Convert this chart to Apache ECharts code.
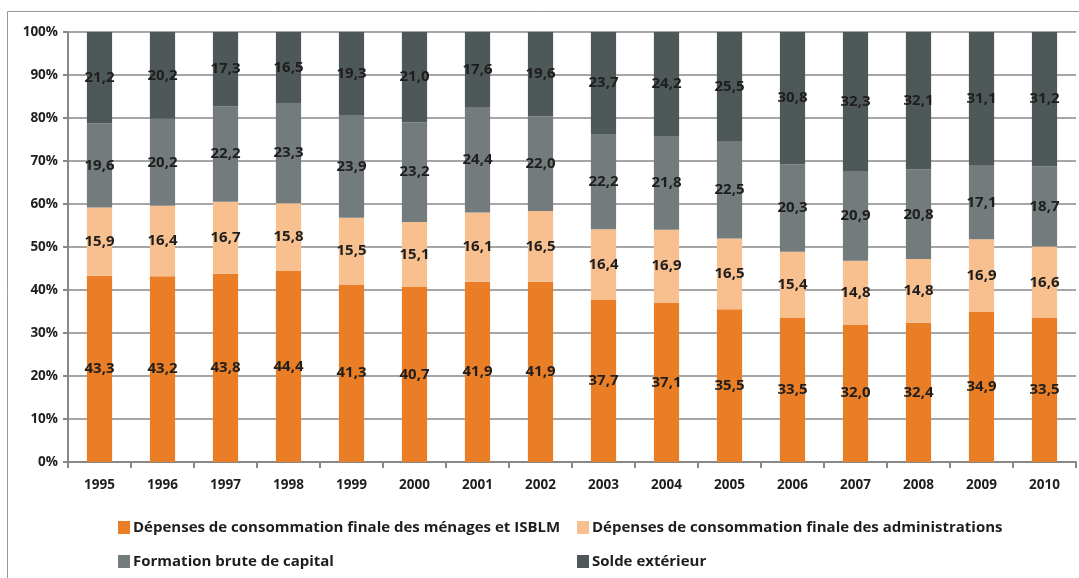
<!DOCTYPE html>
<html><head><meta charset="utf-8">
<script src="https://cdn.jsdelivr.net/npm/echarts@6/dist/echarts.min.js"></script>
<style>html,body{margin:0;padding:0;background:#fff}#c{width:1079px;height:578px}</style>
</head><body><div id="c"></div>
<script>
const years = ['1995','1996','1997','1998','1999','2000','2001','2002','2003','2004','2005','2006','2007','2008','2009','2010'];
const menages = [43.3,43.2,43.8,44.4,41.3,40.7,41.9,41.9,37.7,37.1,35.5,33.5,32.0,32.4,34.9,33.5];
const admin = [15.9,16.4,16.7,15.8,15.5,15.1,16.1,16.5,16.4,16.9,16.5,15.4,14.8,14.8,16.9,16.6];
const fbc = [19.6,20.2,22.2,23.3,23.9,23.2,24.4,22.0,22.2,21.8,22.5,20.3,20.9,20.8,17.1,18.7];
const solde = [21.2,20.2,17.3,16.5,19.3,21.0,17.6,19.6,23.7,24.2,25.5,30.8,32.3,32.1,31.1,31.2];
const names = ['Dépenses de consommation finale des ménages et ISBLM','Dépenses de consommation finale des administrations','Formation brute de capital','Solde extérieur'];
const colors = ['#E97E26','#F9C08F','#737B7D','#4F5858'];
const FONT = '"Open Sans", Lato, sans-serif';
const fmt = p => p.value.toFixed(1).replace('.', ',');
const mk = (i, data) => ({
  name: names[i], type: 'bar', stack: 'tot', data, barWidth: '40%',
  itemStyle: {color: colors[i]},
  label: {show: true, position: 'inside', formatter: fmt, color: '#1e1e1e', fontFamily: FONT, fontWeight: 'bold', fontSize: 15},
  emphasis: {disabled: true}
});
const leg = (i, left, top) => ({
  data: [names[i]], left, top, itemWidth: 12, itemHeight: 13, icon: 'rect', itemGap: 4,
  textStyle: {fontFamily: FONT, fontWeight: 'bold', fontSize: 15, color: '#1e1e1e', padding: [0,0,0,-2]}
});
const chart = echarts.init(document.getElementById('c'));
chart.setOption({
  animation: false,
  graphic: [{type: 'rect', shape: {x: 7.5, y: 11.5, width: 1100, height: 600}, style: {fill: 'none', stroke: '#999', lineWidth: 1}, silent: true}],
  grid: {left: 68, right: 3, top: 32, bottom: 116, containLabel: false},
  legend: [leg(0, 113, 515), leg(1, 572, 515), leg(2, 113, 549), leg(3, 572, 549)],
  xAxis: {
    type: 'category', data: years,
    axisLine: {lineStyle: {color: '#888', width: 2}},
    axisTick: {show: true, length: 6, lineStyle: {color: '#888', width: 2}},
    axisLabel: {color: '#1e1e1e', fontFamily: FONT, fontWeight: 'bold', fontSize: 13.5, margin: 16}
  },
  yAxis: {
    type: 'value', min: 0, max: 100, interval: 10,
    axisLine: {show: true, lineStyle: {color: '#888', width: 2}},
    axisTick: {show: true, length: 5, lineStyle: {color: '#888', width: 2}},
    splitLine: {lineStyle: {color: '#A6A6A6', width: 2}},
    axisLabel: {formatter: '{value}%', color: '#1e1e1e', fontFamily: FONT, fontWeight: 'bold', fontSize: 13.5, margin: 10}
  },
  series: [mk(0, menages), mk(1, admin), mk(2, fbc), mk(3, solde)]
});
</script></body></html>
